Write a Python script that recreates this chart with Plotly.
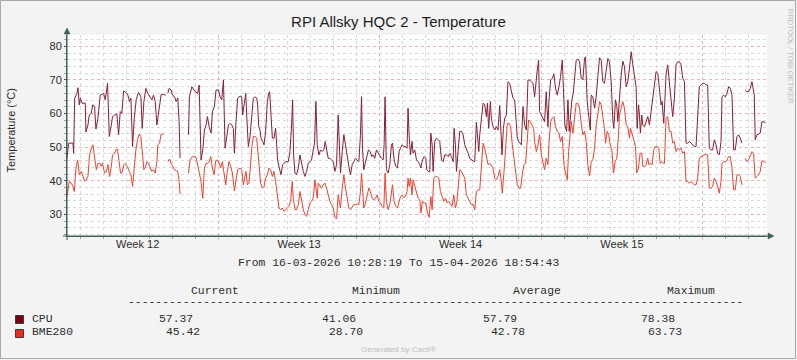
import plotly.graph_objects as go
import pandas as pd

# ---------------- data ----------------
start_time = "2026-03-16 10:28:19"
end_time = "2026-04-15 18:54:43"

cpu_hours = [0, 1.0, 1.7, 6.2, 6.9, 8.0, 10.4, 11.4, 12.8, 13.8, 15.6, 19.0, 19.7, 21.8, 23.2, 25.3, 26.7, 28.7, 30.1, 32.2,
             34.6, 38.1, 39.8, 42.2, 44.0, 46.1, 47.4, 49.5, 51.9, 53.7, 55.4, 57.1, 58.9, 61.3, 63.4, 65.1, 66.5, 68.2, 70.0, 72.0,
             74.4, 76.9, 78.3, 80.0, 82.1, 84.1, 86.2, 88.3, 90.0, 91.8, 93.5, 95.2, 96.6, 98.0, 100.4, 102.8, 103.5, 104.9, 106.3, 108.4,
             109.8, 111.9, 113.6, 115.3, 116.7, 117.7, 122.0, 126.4, 127.4, 129.9, 131.6, 133.3, 136.1, 137.5, 139.5, 141.3, 143.0, 144.7, 146.1, 147.9,
             150.0, 151.3, 153.4, 155.1, 157.6, 159.3, 161.0, 162.8, 164.5, 166.2, 168.0, 169.7, 171.4, 173.1, 174.2, 175.9, 177.6, 180.1, 181.8,
             182.8, 184.2, 186.0, 187.0, 188.7, 190.5, 192.2, 193.9, 195.6, 197.4, 198.4, 199.5, 200.8, 201.9, 203.6, 205.0, 206.7, 208.5, 209.8, 210.9,
             212.3, 213.7, 215.4, 217.1, 218.2, 219.2, 220.9, 222.7, 224.4, 226.1, 227.9, 230.3, 232.0, 233.7, 234.8, 235.8, 237.2, 238.9, 240.7, 242.4,
             244.1, 245.9, 247.6, 249.3, 251.1, 252.8, 254.5, 256.2, 257.6, 259.0, 260.4, 262.1, 263.9, 265.6, 267.3, 268.7, 270.1, 271.8, 273.6, 275.3,
             277.0, 278.8, 280.5, 282.2, 283.6, 284.6, 286.4, 288.1, 289.8, 291.6, 293.3, 295.0, 296.8, 298.5, 300.2, 302.0, 303.7, 305.4, 306.5, 307.5,
             308.9, 310.3, 312.0, 313.7, 315.5, 317.2, 318.6, 320.3, 322.0, 323.8, 325.5, 327.2, 329.0, 330.0, 331.0, 332.4, 334.2, 335.9, 337.6, 338.7,
             340.4, 342.1, 343.9, 345.6, 347.0, 348.7, 350.4, 352.2, 353.9, 354.9, 356.0, 357.4, 359.1, 360.1, 361.9, 363.7, 365.4, 367.2, 368.2, 369.9,
             371.7, 373.4, 374.4, 375.8, 377.5, 378.6, 380.0, 381.0, 382.7, 384.5, 386.2, 387.9, 389.7, 391.4, 393.1, 394.9, 396.6, 398.3, 400.1, 401.8,
             402.8, 404.2, 405.3, 407.0, 408.7, 410.4, 412.2, 413.9, 415.6, 417.4, 419.1, 420.8, 422.6, 424.3, 426.0, 427.1, 428.5, 429.5, 431.2, 433.0,
             434.7, 436.4, 437.5, 438.8, 440.6, 441.6, 443.3, 445.1, 446.8, 448.5, 450.3, 452.0, 452.7, 454.1, 455.5, 457.2, 458.9, 460.7, 462.4, 464.1,
             465.9, 467.6, 468.6, 470.0, 471.7, 472.8, 474.5, 476.2, 478.0, 479.7, 481.4, 483.2, 484.9, 486.6, 488.0, 489.4, 490.8, 491.8, 493.6, 495.3,
             497.0, 498.7, 500.5, 501.5, 503.3, 505.0, 506.7, 508.4, 510.2, 511.9, 513.6, 515.4, 517.1, 518.1, 519.9, 521.3, 522.6, 524.0, 525.4, 526.8,
             528.2, 529.9, 531.7, 533.4, 535.1, 536.8, 538.6, 539.6, 541.3, 543.1, 544.5, 545.5, 547.2, 549.0, 550.7, 552.4, 554.2, 555.9, 557.6, 559.3,
             561.1, 562.8, 564.5, 566.3, 568.0, 569.0, 570.8, 572.2, 573.2, 574.9, 576.7, 578.4, 580.1, 581.9, 583.6, 585.3, 587.1, 588.8, 590.5, 592.2,
             593.3, 594.7, 595.7, 596.7, 598.1, 599.2, 600.9, 602.6, 604.4, 606.1, 607.8, 609.6, 611.3, 613.0, 614.8, 616.5, 618.2, 619.3, 621.0, 622.0,
             623.4, 625.1, 626.9, 628.6, 630.3, 632.1, 633.8, 635.5, 637.3, 639.0, 640.7, 642.5, 644.2, 645.9, 647.7, 649.4, 651.1, 652.8, 654.6, 656.3,
             658.0, 659.8, 661.5, 663.2, 665.0, 666.7, 668.4, 670.2, 671.9, 673.6, 675.4, 677.1, 678.8, 680.6, 681.6, 683.3, 685.1, 686.8, 688.5, 690.3,
             692.0, 693.7, 695.4, 697.2, 698.9, 700.6, 702.4, 704.0, 705.8, 707.6, 709.3, 711.0, 712.8, 714.1, 715.2, 716.2, 718.0, 719.7, 721.4, 723.2,
             724.9, 727.0]
cpu_temp = [46.7, 49.7, 51.2, 51.2, 48.2, 64.6, 66.0, 67.7, 62.6, 64.6, 63.1, 63.1, 54.5, 56.6, 59.6, 60.1, 62.6, 62.1, 55.4, 58.6,
            65.5, 66.0, 64.1, 69.0, 53.2, 56.6, 59.1, 59.6, 59.8, 53.7, 60.6, 60.1, 66.7, 66.3, 65.5, 63.6, 64.6, 50.2, 58.6, 64.1,
            66.3, 65.0, 55.6, 63.6, 67.5, 66.0, 65.0, 64.1, 65.5, 63.6, 56.6, 60.6, 63.1, 65.7, 65.7, 65.5, None, 66.0, 67.5, 67.0,
            65.5, 65.0, 63.6, 64.6, 57.6, 46.7, None, 53.7, 65.0, 68.0, 67.0, 66.5, 66.0, 68.5, 46.2, 49.2, 55.1, 56.6, 59.1, 56.1,
            54.2, 60.6, 62.1, 67.0, 67.0, 65.0, 64.1, 70.0, 49.7, 53.7, 56.6, 57.1, 56.6, 55.6, 48.2, 57.6, 64.6, 65.2, 65.0,
            59.6, 63.1, 66.0, 59.6, 50.2, 53.2, 60.6, 64.6, 65.0, 64.6, 62.6, 56.1, 55.1, 52.7, 51.7, 50.7, 54.7, 63.6, 66.0, 66.5,
            59.6, 52.7, 52.7, 55.6, 50.7, 46.2, 43.8, 41.8, 44.8, 45.2, 45.7, 45.7, 48.7, 56.6, 64.1, 47.7, 42.3, 41.8, 43.8, 47.7,
            44.8, 42.8, 41.3, 42.8, 45.2, 45.7, 46.2, 49.2, 51.2, 63.6, 50.7, 47.7, 49.2, 48.7, 49.2, 51.7, 49.2, 46.7, 46.7, 46.2,
            45.7, 42.8, 44.8, 59.6, 47.7, 42.3, 48.7, 53.7, 50.7, 46.7, 44.3, 41.8, 44.8, 45.7, 46.7, 46.2, 45.7, 53.7, 65.0, 49.7,
            43.3, 45.2, 47.2, 49.2, 48.7, 47.2, 47.7, 46.7, 49.2, 48.2, 47.2, 46.7, 46.2, 50.7, 65.0, 43.3, 42.3, 44.8, 50.7, 51.2,
            46.2, 44.3, 43.8, 48.7, 49.7, 50.7, 50.2, 50.2, 49.7, 61.6, 53.7, 47.7, 51.7, 48.2, 49.2, 46.2, 45.7, 44.8, 43.8, 46.2,
            47.2, 46.7, 43.3, 42.8, 42.6, 54.2, 50.7, 42.8, 51.7, 52.7, 52.2, 51.7, 46.2, 45.7, 47.7, 47.7, 47.2, 48.2, 47.2, 45.7,
            55.6, 50.7, 42.8, 48.7, 54.7, 54.7, 53.7, 50.7, 49.7, 48.2, 46.7, 46.2, 45.9, 45.7, 57.4, 53.7, 48.7, 53.7, 58.6, 63.1,
            62.6, 59.1, 63.1, 55.6, 63.6, 58.6, 56.1, 55.1, 56.1, 55.1, 62.4, 53.7, 47.7, 55.6, 58.6, 59.6, 69.5, 69.0, 67.0, 64.6,
            64.1, 57.6, 52.7, 51.7, 51.2, 50.7, 62.1, 56.6, 55.1, 70.0, 70.0, 69.5, 69.0, 65.0, 70.5, 73.0, 75.9, 60.6, 59.6, 58.6,
            57.6, 66.5, 56.1, 63.6, 70.0, 70.5, 71.7, 67.5, 65.5, 68.0, 71.0, 75.9, 65.0, 56.6, 54.7, 64.1, 54.7, 59.6, 64.1, 66.0,
            71.5, 75.9, 76.2, 75.4, 70.5, 70.0, 76.4, 76.9, 63.6, 59.6, 55.1, 65.5, 65.0, 61.6, 65.0, 71.0, 76.6, 75.9, 69.5, 69.0,
            73.5, 76.4, 75.4, 69.5, 58.1, 55.6, 64.1, 62.1, 57.6, 65.0, 71.5, 75.6, 74.0, 68.0, 69.5, 73.5, 78.4, 74.5, 71.5, 68.0,
            55.6, 62.6, 59.6, 54.2, 59.6, 56.6, 56.1, 57.6, 59.1, 56.6, 60.6, 66.0, 69.5, 72.5, 72.0, 67.5, 62.6, 63.6, 57.1, 63.1,
            71.5, 74.5, 69.0, 64.1, 59.1, 64.6, 74.5, 75.4, 75.4, 74.5, 70.5, 69.5, 51.2, 51.2, 51.7, 51.2, 50.7, 50.2, 50.2, 60.6,
            68.0, 68.5, 69.0, 69.0, 68.5, 68.5, 49.7, 49.2, 49.2, 52.2, 50.7, 48.2, 47.7, 51.7, 65.0, 65.5, 65.0, 66.0, 68.0, 67.5,
            65.5, 49.2, 49.2, 53.2, 53.7, 52.7, 51.2, None, 67.0, 66.5, 66.5, 67.5, 69.5, 67.5, 65.5, 52.2, 53.7, 53.9, 54.2, 57.6,
            57.4, 57.37]

bme_hours = [0, 1.0, 2.4, 4.5, 6.2, 7.6, 9.3, 11.1, 12.8, 14.9, 16.6, 18.3, 20.1, 21.8, 23.5, 25.3, 27.0, 28.7, 30.5, 32.2,
             34.3, 35.7, 37.0, 39.1, 40.9, 42.6, 44.3, 46.1, 47.4, 49.5, 50.9, 52.6, 54.4, 55.7, 57.1, 59.2, 60.6, 62.7, 64.8, 66.5,
             68.2, 70.0, 71.7, 73.4, 75.1, 76.9, 78.6, 80.0, 81.4, 83.1, 84.8, 86.6, 88.3, 90.0, 91.8, 93.5, 94.5, 96.3, 98.0, 100.4,
             103.5, 104.9, 106.7, 108.4, 110.1, 111.9, 113.6, 115.3, 116.7, 117.7, 122.0, 126.4, 128.1, 130.5, 132.6, 134.4, 136.1, 137.8, 139.5, 141.3,
             143.0, 144.7, 146.5, 148.2, 149.6, 151.3, 153.1, 154.8, 156.5, 158.3, 160.0, 161.7, 163.5, 165.2, 166.9, 168.6, 170.4, 172.1, 174.2, 175.9,
             177.6, 180.1, 181.8, 183.5, 185.3, 186.3, 187.7, 189.4, 190.8, 192.2, 193.9, 195.6, 197.4, 198.8, 200.1, 201.5, 203.3, 205.0, 206.7, 208.5,
             210.2, 211.9, 213.7, 215.4, 217.1, 218.8, 220.6, 222.3, 224.0, 225.8, 227.5, 229.2, 231.0, 232.7, 234.4, 235.5, 237.2, 238.9, 240.7, 242.4,
             244.1, 245.9, 247.6, 249.3, 251.1, 252.8, 254.5, 256.2, 258.0, 259.0, 260.4, 261.4, 263.2, 264.9, 266.6, 268.4, 270.1, 271.8, 273.6, 275.3,
             277.0, 278.8, 280.5, 282.2, 283.3, 284.6, 286.4, 288.1, 289.8, 291.6, 293.3, 295.0, 296.8, 298.5, 300.2, 302.0, 303.7, 305.4, 306.5, 307.5,
             308.9, 310.6, 312.3, 314.1, 315.8, 317.5, 319.3, 321.0, 322.7, 324.5, 326.2, 327.9, 329.7, 331.0, 332.4, 334.2, 335.9, 337.6, 338.7, 340.4,
             342.1, 343.9, 345.6, 347.0, 348.7, 350.4, 352.2, 353.9, 354.9, 356.0, 357.4, 359.1, 360.1, 361.9, 363.7, 365.4, 367.2, 368.2, 369.9, 371.7,
             373.4, 375.1, 376.9, 378.6, 380.0, 381.7, 383.4, 385.2, 386.9, 388.6, 390.4, 392.1, 393.8, 395.6, 397.3, 399.0, 400.7, 402.5, 404.2, 405.6,
             407.0, 408.7, 410.4, 412.2, 413.9, 415.6, 417.4, 419.1, 420.8, 422.6, 424.3, 426.0, 427.8, 429.5, 431.2, 433.0, 434.7, 436.4, 438.2, 439.9,
             441.6, 443.3, 445.1, 446.8, 448.5, 450.3, 452.0, 453.0, 454.8, 456.5, 458.2, 460.0, 461.7, 463.4, 465.2, 466.9, 468.6, 470.4, 472.1, 473.8,
             475.5, 477.3, 479.0, 480.4, 482.1, 483.9, 485.6, 486.6, 488.4, 490.1, 491.8, 493.6, 495.3, 497.0, 498.7, 500.5, 501.5, 503.3, 505.0, 506.7,
             508.4, 510.2, 511.9, 513.6, 515.4, 517.1, 518.8, 520.6, 522.0, 523.3, 524.7, 526.5, 528.2, 529.9, 531.7, 533.4, 535.1, 536.8, 538.6, 540.3,
             542.0, 543.8, 545.5, 547.2, 549.0, 550.7, 552.4, 554.2, 555.9, 557.6, 559.3, 560.4, 562.1, 563.8, 565.2, 567.0, 568.7, 570.4, 572.2, 573.9,
             574.9, 576.7, 578.4, 580.1, 581.9, 583.6, 585.3, 586.4, 588.1, 589.8, 591.6, 592.9, 594.7, 596.4, 598.1, 599.2, 600.9, 602.6, 604.4, 605.4,
             607.1, 608.9, 610.6, 612.3, 614.1, 615.8, 617.2, 618.9, 620.6, 621.7, 623.4, 625.1, 626.9, 628.6, 630.3, 632.1, 633.8, 635.5, 637.3, 639.0,
             640.7, 642.5, 644.2, 645.9, 647.7, 649.4, 651.1, 652.8, 654.6, 656.3, 658.0, 659.8, 661.5, 663.2, 665.0, 666.7, 668.4, 670.2, 671.9, 673.6,
             675.4, 677.1, 678.8, 680.6, 681.6, 683.3, 685.1, 686.8, 688.5, 690.3, 692.0, 693.7, 695.4, 697.2, 698.9, 700.6, 702.4, 704.0, 705.8, 707.6,
             709.3, 711.0, 712.8, 714.5, 716.2, 718.0, 719.7, 721.4, 723.2, 724.9, 727.0]
bme_temp = [35.3, 37.8, 39.8, 39.3, 38.3, 36.8, 43.8, 46.2, 41.8, 42.8, 41.3, 40.0, 40.3, 41.3, 47.7, 49.7, 50.7, 47.7, 43.3, 45.2,
            45.2, 44.3, 45.2, 42.3, 42.8, 44.8, 41.3, 44.3, 47.7, 48.2, 49.2, 49.4, 45.7, 42.3, 42.3, 44.8, 45.2, 44.3, 42.8, 41.8,
            38.3, 44.3, 49.2, 52.2, 53.9, 53.2, 47.7, 43.3, 43.8, 45.7, 45.2, 43.8, 42.8, 43.3, 42.3, 45.7, 50.7, 51.2, 53.9, 53.9,
            None, 45.7, 46.5, 45.2, 44.3, 43.3, 43.0, 42.8, 39.8, 36.0, None, 42.3, 46.2, 47.2, 47.2, 46.9, 44.8, 41.8, 39.8, 34.8,
            43.8, 45.2, 45.2, 45.9, 47.2, 43.8, 41.8, 46.0, 46.2, 45.2, 43.8, 45.7, 42.8, 38.8, 42.8, 45.7, 44.3, 42.3, 37.0, 39.8,
            43.3, 43.8, 43.3, 38.8, 40.8, 42.8, 38.8, 39.3, 43.8, 49.7, 53.2, 53.2, 52.7, 47.7, 43.3, 39.3, 37.8, 38.3, 40.8, 41.8,
            43.8, 43.3, 41.3, 42.8, 39.8, 35.8, 31.9, 31.4, 31.9, 30.9, 31.4, 31.9, 32.4, 33.9, 39.8, 34.8, 31.4, 31.4, 32.9, 36.8,
            33.9, 31.4, 29.9, 29.4, 31.4, 33.4, 33.9, 34.8, 40.3, 37.8, 34.8, 39.3, 38.3, 37.8, 38.8, 39.3, 37.8, 35.8, 33.9, 32.9,
            31.9, 29.1, 28.7, 35.8, 33.4, 31.9, 37.8, 41.8, 37.8, 34.8, 31.9, 31.4, 32.4, 32.9, 32.9, 33.1, 32.9, 36.8, 42.3, 36.8,
            31.9, 33.4, 35.8, 37.8, 36.8, 34.8, 34.3, 34.8, 35.8, 33.9, 33.4, 32.4, 31.9, 42.3, 33.9, 31.4, 32.9, 35.8, 38.8, 33.9,
            32.4, 31.9, 34.3, 35.3, 35.8, 35.0, 35.3, 36.8, 40.8, 38.3, 40.8, 35.8, 40.3, 38.3, 35.8, 34.8, 34.3, 30.4, 33.9, 33.4,
            33.4, 30.4, 29.1, 35.3, 31.4, 40.8, 41.3, 41.3, 40.8, 36.8, 35.3, 33.9, 34.8, 33.4, 33.9, 32.9, 32.4, 35.8, 31.9, 33.4,
            38.8, 43.3, 42.8, 41.8, 40.8, 35.8, 34.8, 33.9, 32.9, 32.9, 31.4, 36.8, 37.3, 37.3, 44.8, 51.2, 49.7, 46.7, 44.8, 45.2,
            44.3, 43.8, 40.8, 40.3, 41.3, 43.3, 39.8, 36.3, 42.8, 51.7, 57.1, 57.1, 56.1, 50.7, 46.7, 43.8, 38.8, 37.8, 37.8, 41.8,
            44.8, 45.2, 51.7, 58.1, 57.6, 56.6, 55.6, 51.7, 48.7, 50.7, 53.7, 47.7, 45.7, 43.3, 46.7, 44.8, 50.7, 57.6, 58.6, 59.1,
            56.1, 54.7, 54.2, 51.7, 53.2, 44.8, 42.3, 40.3, 48.7, 54.7, 57.6, 54.2, 58.6, 63.1, 63.1, 61.6, 57.1, 53.7, 54.7, 51.7,
            44.8, 41.5, 45.7, 46.2, 49.7, 56.6, 59.6, 63.6, 62.6, 59.1, 55.6, 51.2, 54.7, 53.7, 50.7, 49.2, 42.3, 45.7, 46.7, 53.7,
            59.6, 61.6, 63.6, 61.6, 56.6, 56.1, 52.7, 55.6, 54.2, 52.2, 50.2, 42.3, 43.8, 48.2, 48.2, 44.3, 44.3, 44.8, 46.7, 44.8,
            45.2, 44.8, 49.2, 50.2, 50.2, 49.7, 45.2, 45.7, 45.2, 45.2, 58.6, 59.1, 54.7, 54.7, 51.2, 51.7, 48.7, 49.7, 49.2, 49.7,
            48.2, 48.7, 39.8, 39.8, 39.3, 39.8, 39.3, 38.8, 38.8, 40.8, 46.7, 47.2, 47.5, 47.7, 47.9, 47.7, 37.8, 37.8, 38.3, 40.8,
            39.8, 38.3, 36.3, 39.8, 45.2, 45.7, 45.7, 46.2, 47.2, 47.2, 43.8, 37.3, 37.3, 41.8, 41.8, 41.3, 38.8, None, 46.7, 45.7,
            46.2, 47.7, 48.7, 48.2, 40.8, 41.3, 41.8, 42.8, 46.0, 45.7, 45.42]

week_labels = ["Week 12", "Week 13", "Week 14", "Week 15"]
week_label_times = ["2026-03-19 12:00", "2026-03-26 12:00", "2026-04-02 12:00", "2026-04-09 12:00"]
week_starts = ["2026-03-23", "2026-03-30", "2026-04-06", "2026-04-13"]

series_names = ["CPU", "BME280"]
series_colors = ["#7B0018", "#EE2A1E"]
line_colors = ["#8A1E32", "#F2402F"]
stat_headers = ["Current", "Minimum", "Average", "Maximum"]
cpu_stats = ["57.37", "41.06", "57.79", "78.38"]
bme_stats = ["45.42", "28.70", "42.78", "63.73"]

title_text = "RPI Allsky HQC 2 - Temperature"
y_title = "Temperature (°C)"
period_text = "From 16-03-2026 10:28:19 To 15-04-2026 18:54:43"

# ---------------- build ----------------
t0 = pd.Timestamp(start_time)
t1 = pd.Timestamp(end_time)
cpu_x = t0 + pd.to_timedelta(cpu_hours, unit="h")
bme_x = t0 + pd.to_timedelta(bme_hours, unit="h")

days = pd.date_range("2026-03-17", "2026-04-15", freq="D")
minor_days = [d for d in days if d not in pd.to_datetime(week_starts)]

W, H = 797, 360
L, R, T, B = 67, 30, 35, 124
PW, PH = W - L - R, H - T - B


def fx(px):
    return (px - L) / PW


def fy(py):
    return (T + PH - py) / PH


AX = "#3E5E56"
GRID_MINOR = "#D9D9D9"
GRID_MAJOR = "#ECB4B4"
MONO = "Liberation Mono"
SANS = "Liberation Sans"

fig = go.Figure()
fig.add_trace(go.Scatter(x=cpu_x, y=cpu_temp, mode="lines", name=series_names[0],
                         line=dict(color=line_colors[0], width=1), connectgaps=False,
                         showlegend=False, hoverinfo="skip"))
fig.add_trace(go.Scatter(x=bme_x, y=bme_temp, mode="lines", name=series_names[1],
                         line=dict(color=line_colors[1], width=1), connectgaps=False,
                         showlegend=False, hoverinfo="skip"))
# carrier trace for the week-label axis
fig.add_trace(go.Scatter(x=[t0, t1], y=[None, None], xaxis="x2", mode="lines",
                         showlegend=False, hoverinfo="skip"))

fig.update_layout(
    width=W, height=H,
    margin=dict(l=L, r=R, t=T, b=B, pad=0),
    paper_bgcolor="#F3F3F3", plot_bgcolor="#FFFFFF",
    font=dict(family=SANS, size=11, color="#333333"),
    title=dict(text=title_text, x=0.5, xref="container", xanchor="center",
               y=1 - 22 / H, yref="container", yanchor="middle",
               font=dict(family=SANS, size=15, color="#1E1E1E")),
    xaxis=dict(
        type="date", range=[t0, t1],
        tickvals=pd.to_datetime(week_starts), ticktext=["", "", "", ""], showticklabels=False,
        showgrid=True, gridcolor=GRID_MAJOR, griddash="dot", gridwidth=1,
        ticks="outside", ticklen=3, tickcolor=GRID_MAJOR,
        minor=dict(tickvals=minor_days, showgrid=True, gridcolor=GRID_MINOR, griddash="dot",
                   gridwidth=1, ticks="outside", ticklen=2, tickcolor="#A0A0A0"),
        showline=True, linecolor=AX, linewidth=1, zeroline=False, fixedrange=True,
    ),
    xaxis2=dict(
        type="date", range=[t0, t1], overlaying="x", anchor="y", side="bottom",
        tickvals=pd.to_datetime(week_label_times), ticktext=week_labels,
        showgrid=False, ticks="", showline=False, zeroline=False,
        tickfont=dict(family=SANS, size=11, color="#2B2B2B"), fixedrange=True,
    ),
    yaxis=dict(
        range=[23.57, 83.39], tick0=0, dtick=10,
        showgrid=True, gridcolor=GRID_MAJOR, griddash="dot", gridwidth=1,
        ticks="outside", ticklen=2, tickcolor=AX,
        minor=dict(dtick=2, showgrid=True, gridcolor=GRID_MINOR, griddash="dot", gridwidth=1,
                   ticks="outside", ticklen=2, tickcolor="#A0A0A0"),
        showline=True, linecolor=AX, linewidth=1, zeroline=False,
        tickfont=dict(family=SANS, size=11, color="#2B2B2B"), fixedrange=True,
    ),
)

shapes = []
# outer frame
shapes.append(dict(type="rect", xref="paper", yref="paper",
                   x0=fx(0.5), x1=fx(W - 1.5), y0=fy(H - 1.5), y1=fy(0.5),
                   line=dict(color="#A8A8A8", width=1), layer="below"))
# axis extensions and arrows
shapes.append(dict(type="line", xref="paper", yref="paper", x0=0, x1=0, y0=fy(T + PH + 4), y1=fy(T - 2),
                   line=dict(color=AX, width=1)))
shapes.append(dict(type="line", xref="paper", yref="paper", x0=fx(L - 4), x1=fx(L + PW + 3), y0=0, y1=0,
                   line=dict(color=AX, width=1)))
shapes.append(dict(type="path", xref="paper", yref="paper",
                   path=f"M {fx(L - 3)} {fy(T - 1)} L {fx(L + 3)} {fy(T - 1)} L {fx(L)} {fy(T - 7)} Z",
                   fillcolor=AX, line=dict(color=AX, width=0.5)))
shapes.append(dict(type="path", xref="paper", yref="paper",
                   path=f"M {fx(L + PW + 1)} {fy(T + PH - 3)} L {fx(L + PW + 1)} {fy(T + PH + 3)} L {fx(L + PW + 7)} {fy(T + PH)} Z",
                   fillcolor=AX, line=dict(color=AX, width=0.5)))
# legend swatches
for i, c in enumerate(series_colors):
    ytop = 315.5 + i * 14
    shapes.append(dict(type="rect", xref="paper", yref="paper",
                       x0=fx(15.5), x1=fx(23.5), y0=fy(ytop + 8), y1=fy(ytop),
                       fillcolor=c, line=dict(color="#3A3A3A", width=1)))
fig.update_layout(shapes=shapes)

ann = []
ann.append(dict(text=y_title, xref="paper", yref="paper", x=fx(10.5), y=fy(131), textangle=-90,
                showarrow=False, xanchor="center", yanchor="middle",
                font=dict(family=SANS, size=11, color="#2B2B2B")))
ann.append(dict(text="RRDTOOL / TOBI OETIKER", xref="paper", yref="paper", x=fx(790), y=fy(56), textangle=90,
                showarrow=False, xanchor="center", yanchor="middle",
                font=dict(family=SANS, size=7.5, color="#BDBDBD")))
ann.append(dict(text=period_text, xref="paper", yref="paper", x=fx(398.5), y=fy(263),
                showarrow=False, xanchor="center", yanchor="middle",
                font=dict(family=MONO, size=11.4, color="#2E2E2E")))
header_x = [215, 376, 537, 691]
for hx, h in zip(header_x, stat_headers):
    ann.append(dict(text=h, xref="paper", yref="paper", x=fx(hx), y=fy(290.5),
                    showarrow=False, xanchor="center", yanchor="middle",
                    font=dict(family=MONO, size=11.4, color="#2E2E2E")))
ann.append(dict(text="-" * 90, xref="paper", yref="paper", x=fx(435.5), y=fy(302),
                showarrow=False, xanchor="center", yanchor="middle",
                font=dict(family=MONO, size=11.4, color="#2E2E2E")))
row_y = [318.5, 332.3]
val_x = [[176, 338.5, 500, 658], [182.5, 345.7, 508, 664.5]]
for i, (name, stats) in enumerate(zip(series_names, [cpu_stats, bme_stats])):
    ann.append(dict(text=name, xref="paper", yref="paper", x=fx(30), y=fy(row_y[i]),
                    showarrow=False, xanchor="left", yanchor="middle",
                    font=dict(family=MONO, size=11.4, color="#2E2E2E")))
    for vx, s in zip(val_x[i], stats):
        ann.append(dict(text=s, xref="paper", yref="paper", x=fx(vx), y=fy(row_y[i]),
                        showarrow=False, xanchor="center", yanchor="middle",
                        font=dict(family=MONO, size=11.4, color="#2E2E2E")))
ann.append(dict(text="Generated by Cacti®", xref="paper", yref="paper", x=fx(398), y=fy(349),
                showarrow=False, xanchor="center", yanchor="middle",
                font=dict(family=SANS, size=8, color="#BDBDBD")))
fig.update_layout(annotations=ann)

fig.write_html("out.html", config={"displayModeBar": False},
               post_script="document.body.style.margin='0';document.body.style.padding='0';")
